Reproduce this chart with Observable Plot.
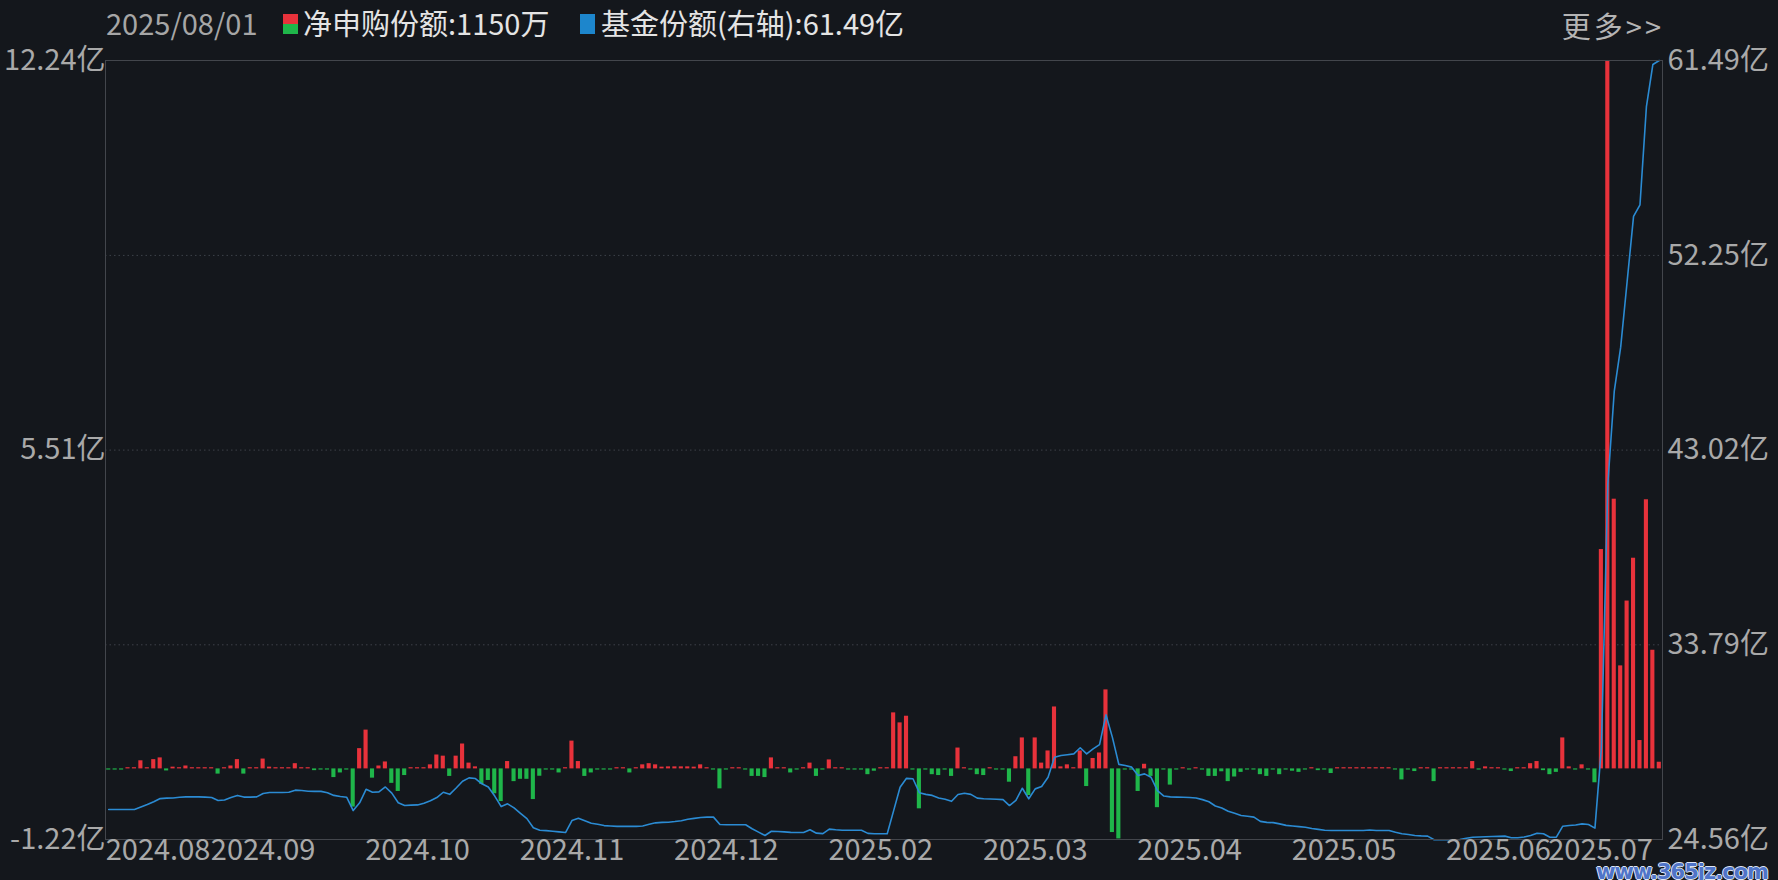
<!DOCTYPE html>
<html>
<head>
<meta charset="utf-8">
<script src="https://cdn.jsdelivr.net/npm/d3@7"></script>
<script src="https://cdn.jsdelivr.net/npm/@observablehq/plot@0.6"></script>
<style>
  html, body { margin: 0; padding: 0; background: #14171c; width: 1778px; height: 880px; overflow: hidden;
    font-family: "Noto Sans CJK SC", "Noto Sans", sans-serif; }
  #header { position: relative; height: 45px; width: 1778px; }
  #header .t { position: absolute; top: 0; line-height: 45px; font-size: 29px; white-space: nowrap; }
  #date { left: 106px; color: #a6a6a6; }
  .sw { position: absolute; display: block; width: 15px; height: 20px; top: 14px; }
  #swNet { left: 283px; background: linear-gradient(#e8323b 0 50%, #1fb64a 50% 100%); }
  #swShare { left: 580px; background: #1d86cc; }
  #netLabel { left: 303px; color: #e4e4e4; }
  #shareLabel { left: 601px; color: #e4e4e4; }
  #more { right: 114px; top: 3px !important; color: #b4b4b4; letter-spacing: 3px; }
  #chart { position: relative; }
  #wm { position: absolute; right: 10px; top: 860px; font: bold 21px "DejaVu Sans", sans-serif; color: #4f74c8;
    text-shadow: 1px 0 #dfe6f5, -1px 0 #dfe6f5, 0 1px #dfe6f5, 0 -1px #dfe6f5; letter-spacing: -1px; }
</style>
</head>
<body>
<div id="header">
  <span class="t" id="date"></span>
  <span class="sw" id="swNet"></span><span class="t" id="netLabel"></span>
  <span class="sw" id="swShare"></span><span class="t" id="shareLabel"></span>
  <span class="t" id="more">更多&gt;&gt;</span>
</div>
<div id="chart"></div>
<div id="wm">www.365jz.com</div>
<script>
// ---- data (values in 亿) ----
const lastDate = "2025/08/01";
const netLabelText = "净申购份额";
const shareLabelText = "基金份额(右轴)";

// net subscription per trading day (亿), left axis
const netSub = [
  -0.02, -0.02, -0.02, 0.02, 0.02, 0.14, 0.02, 0.16, 0.19, -0.035,
  0.03, 0.02, 0.05, 0.02, 0.02, 0.02, 0.02, -0.09, 0.02, 0.05,
  0.16, -0.09, 0.02, 0.02, 0.17, 0.03, 0.02, 0.02, 0.02, 0.09,
  0.02, 0.02, -0.03, -0.02, -0.02, -0.15, -0.07, -0.02, -0.66, 0.35,
  0.67, -0.16, 0.05, 0.12, -0.25, -0.39, -0.115, 0.02, 0.02, 0.02,
  0.07, 0.24, 0.22, -0.13, 0.22, 0.43, 0.10, 0.035, -0.27, -0.20,
  -0.43, -0.565, 0.127, -0.22, -0.18, -0.18, -0.53, -0.127, -0.02, -0.02,
  -0.07, 0.02, 0.48, 0.127, -0.13, -0.07, -0.02, -0.02, -0.02, 0.02,
  0.02, -0.07, 0.02, 0.07, 0.09, 0.07, 0.03, 0.035, 0.035, 0.035,
  0.035, 0.03, 0.07, 0.02, -0.02, -0.345, -0.02, 0.02, 0.02, -0.02,
  -0.13, -0.13, -0.15, 0.19, 0.02, 0.02, -0.07, -0.02, 0.02, 0.10,
  -0.13, -0.02, 0.155, 0.02, 0.02, -0.02, -0.02, -0.02, -0.10, -0.04,
  0.02, 0.02, 0.968, 0.795, 0.91, -0.02, -0.69, -0.02, -0.10, -0.115,
  -0.02, -0.13, 0.36, 0.02, -0.02, -0.10, -0.115, 0.02, -0.02, -0.02,
  -0.23, 0.21, 0.535, -0.46, 0.535, 0.10, 0.31, 1.07, 0.035, 0.07,
  0.02, 0.31, -0.305, 0.18, 0.275, 1.365, -1.10, -1.21, -0.02, -0.02,
  -0.39, 0.08, -0.13, -0.67, -0.02, -0.28, -0.02, 0.02, -0.02, 0.02,
  -0.02, -0.13, -0.13, -0.05, -0.22, -0.14, -0.06, -0.02, -0.02, -0.10,
  -0.13, -0.02, -0.10, -0.02, -0.04, -0.06, -0.02, 0.02, -0.03, -0.02,
  -0.08, 0.02, 0.02, 0.02, 0.02, 0.02, 0.02, 0.02, 0.02, 0.02,
  -0.02, -0.19, -0.02, -0.046, 0.02, 0.02, -0.22, 0.02, 0.02, 0.02,
  0.02, 0.02, 0.127, -0.02, 0.035, 0.02, 0.02, -0.02, -0.046, 0.02,
  0.02, 0.09, 0.127, -0.03, -0.10, -0.06, 0.535, 0.035, -0.02, 0.07,
  -0.02, -0.24, 3.79, 12.24, 4.66, 1.78, 2.90, 3.64, 0.49, 4.65,
  2.05, 0.115
];

// fund shares (亿), right axis
const shares = [
  25.98, 25.98, 25.98, 25.98, 25.98, 26.10, 26.22, 26.35, 26.50, 26.52,
  26.53, 26.56, 26.58, 26.58, 26.58, 26.57, 26.55, 26.41, 26.43, 26.55,
  26.65, 26.57, 26.57, 26.58, 26.74, 26.79, 26.79, 26.79, 26.80, 26.90,
  26.88, 26.85, 26.84, 26.84, 26.78, 26.65, 26.60, 26.56, 25.93, 26.30,
  26.94, 26.80, 26.82, 27.05, 26.76, 26.30, 26.17, 26.19, 26.20, 26.28,
  26.40, 26.55, 26.80, 26.70, 27.00, 27.32, 27.48, 27.45, 27.20, 27.05,
  26.62, 26.12, 26.25, 26.06, 25.80, 25.55, 25.12, 25.00, 24.98, 24.95,
  24.92, 24.89, 25.46, 25.57, 25.45, 25.33, 25.28, 25.22, 25.20, 25.18,
  25.18, 25.18, 25.18, 25.20, 25.28, 25.35, 25.37, 25.38, 25.41, 25.45,
  25.52, 25.56, 25.60, 25.62, 25.62, 25.27, 25.26, 25.26, 25.26, 25.26,
  25.07, 24.91, 24.75, 24.95, 24.94, 24.92, 24.90, 24.89, 24.89, 25.02,
  24.86, 24.84, 25.05, 25.02, 25.00, 25.00, 25.00, 25.00, 24.85, 24.83,
  24.83, 24.83, 25.93, 27.04, 27.46, 27.44, 26.78, 26.70, 26.65, 26.53,
  26.47, 26.37, 26.69, 26.75, 26.70, 26.52, 26.49, 26.48, 26.47, 26.45,
  26.17, 26.41, 26.99, 26.49, 26.96, 27.07, 27.51, 28.46, 28.54, 28.58,
  28.62, 28.91, 28.62, 28.86, 29.06, 30.47, 29.40, 28.12, 28.07, 27.99,
  27.59, 27.67, 27.51, 26.88, 26.62, 26.58, 26.57, 26.56, 26.55, 26.53,
  26.45, 26.35, 26.15, 26.05, 25.90, 25.80, 25.70, 25.66, 25.62, 25.42,
  25.37, 25.36, 25.30, 25.23, 25.20, 25.17, 25.14, 25.08, 25.04, 25.00,
  24.99, 24.99, 24.99, 24.99, 24.99, 24.99, 25.01, 24.99, 24.99, 24.99,
  24.90, 24.83, 24.80, 24.75, 24.73, 24.72, 24.55, 24.55, 24.55, 24.55,
  24.56, 24.62, 24.67, 24.68, 24.69, 24.70, 24.71, 24.72, 24.64, 24.64,
  24.68, 24.75, 24.86, 24.83, 24.67, 24.67, 25.19, 25.22, 25.25, 25.30,
  25.27, 25.10, 28.90, 41.40, 45.80, 47.90, 51.00, 54.10, 54.65, 59.30,
  61.30, 61.49
];

const xTickLabels = ["2024.08", "2024.09", "2024.10", "2024.11", "2024.12", "2025.02",
                     "2025.03", "2025.04", "2025.05", "2025.06", "2025.07"];
const xTickEvery = 24; // trading days between labels
const leftTicks = [-1.22, 5.51, 12.24];
const rightTicks = [24.56, 33.79, 43.02, 52.25, 61.49];

// ---- header ----
const n = netSub.length;
document.getElementById("date").textContent = lastDate;
document.getElementById("netLabel").textContent = netLabelText + ":" + Math.round(netSub[n - 1] * 10000) + "万";
document.getElementById("shareLabel").textContent = shareLabelText + ":" + shares[shares.length - 1].toFixed(2) + "亿";

// ---- chart ----
const RED = "#e8323b", GREEN = "#1fb64a", BLUE = "#2b8bd3";
const idx = d3.range(n);
const L0 = leftTicks[0], L1 = leftTicks[leftTicks.length - 1];
const R0 = rightTicks[0], R1 = rightTicks[rightTicks.length - 1];
const toLeft = v => L0 + (v - R0) * (L1 - L0) / (R1 - R0);
const rightLabel = new Map(rightTicks.map(v => [toLeft(v), v.toFixed(2) + "亿"]));
const ks = d3.range(xTickLabels.length);

const chart = Plot.plot({
  width: 1778,
  height: 835,
  marginTop: 15,
  marginBottom: 41,
  marginLeft: 105,
  marginRight: 116,
  style: { background: "transparent", color: "#a9a9a9", fontFamily: "'Noto Sans CJK SC', 'Noto Sans', sans-serif",
           fontSize: "29px", overflow: "visible" },
  x: { type: "band", domain: idx, paddingInner: 0.36, paddingOuter: 0.18, axis: null },
  y: { domain: [L0, L1], axis: null },
  marks: [
    Plot.ruleY(rightTicks.slice(1, -1).map(toLeft), { stroke: "#3d4149", strokeDasharray: "1.5,3" }),
    Plot.barY(idx, { filter: i => netSub[i] >= 0, x: i => i, y1: 0, y2: i => netSub[i], fill: RED }),
    Plot.barY(idx, { filter: i => netSub[i] < 0, x: i => i, y1: 0, y2: i => netSub[i], fill: GREEN }),
    Plot.line(idx, { x: i => i, y: i => toLeft(shares[i]), stroke: BLUE, strokeWidth: 1.6 }),
    Plot.frame({ stroke: "#43464c" }),
    Plot.axisY({ anchor: "left", ticks: leftTicks, tickSize: 0, tickPadding: 0, label: null,
                 tickFormat: d => d.toFixed(2) + "亿" }),
    Plot.axisY({ anchor: "right", ticks: rightTicks.map(toLeft), tickSize: 0, tickPadding: 5, label: null,
                 tickFormat: d => rightLabel.get(d) }),
    Plot.text(ks.slice(0, 1), { x: k => k * xTickEvery, text: k => xTickLabels[k], frameAnchor: "bottom",
                 dy: 20, dx: -3, textAnchor: "start", fill: "#a9a9a9" }),
    Plot.text(ks.slice(1, -1), { x: k => k * xTickEvery, text: k => xTickLabels[k], frameAnchor: "bottom",
                 dy: 20, textAnchor: "middle", fill: "#a9a9a9" }),
    Plot.text(ks.slice(-1), { x: k => k * xTickEvery, text: k => xTickLabels[k], frameAnchor: "bottom",
                 dy: 20, textAnchor: "end", fill: "#a9a9a9" })
  ]
});
document.getElementById("chart").appendChild(chart);
</script>
</body>
</html>
